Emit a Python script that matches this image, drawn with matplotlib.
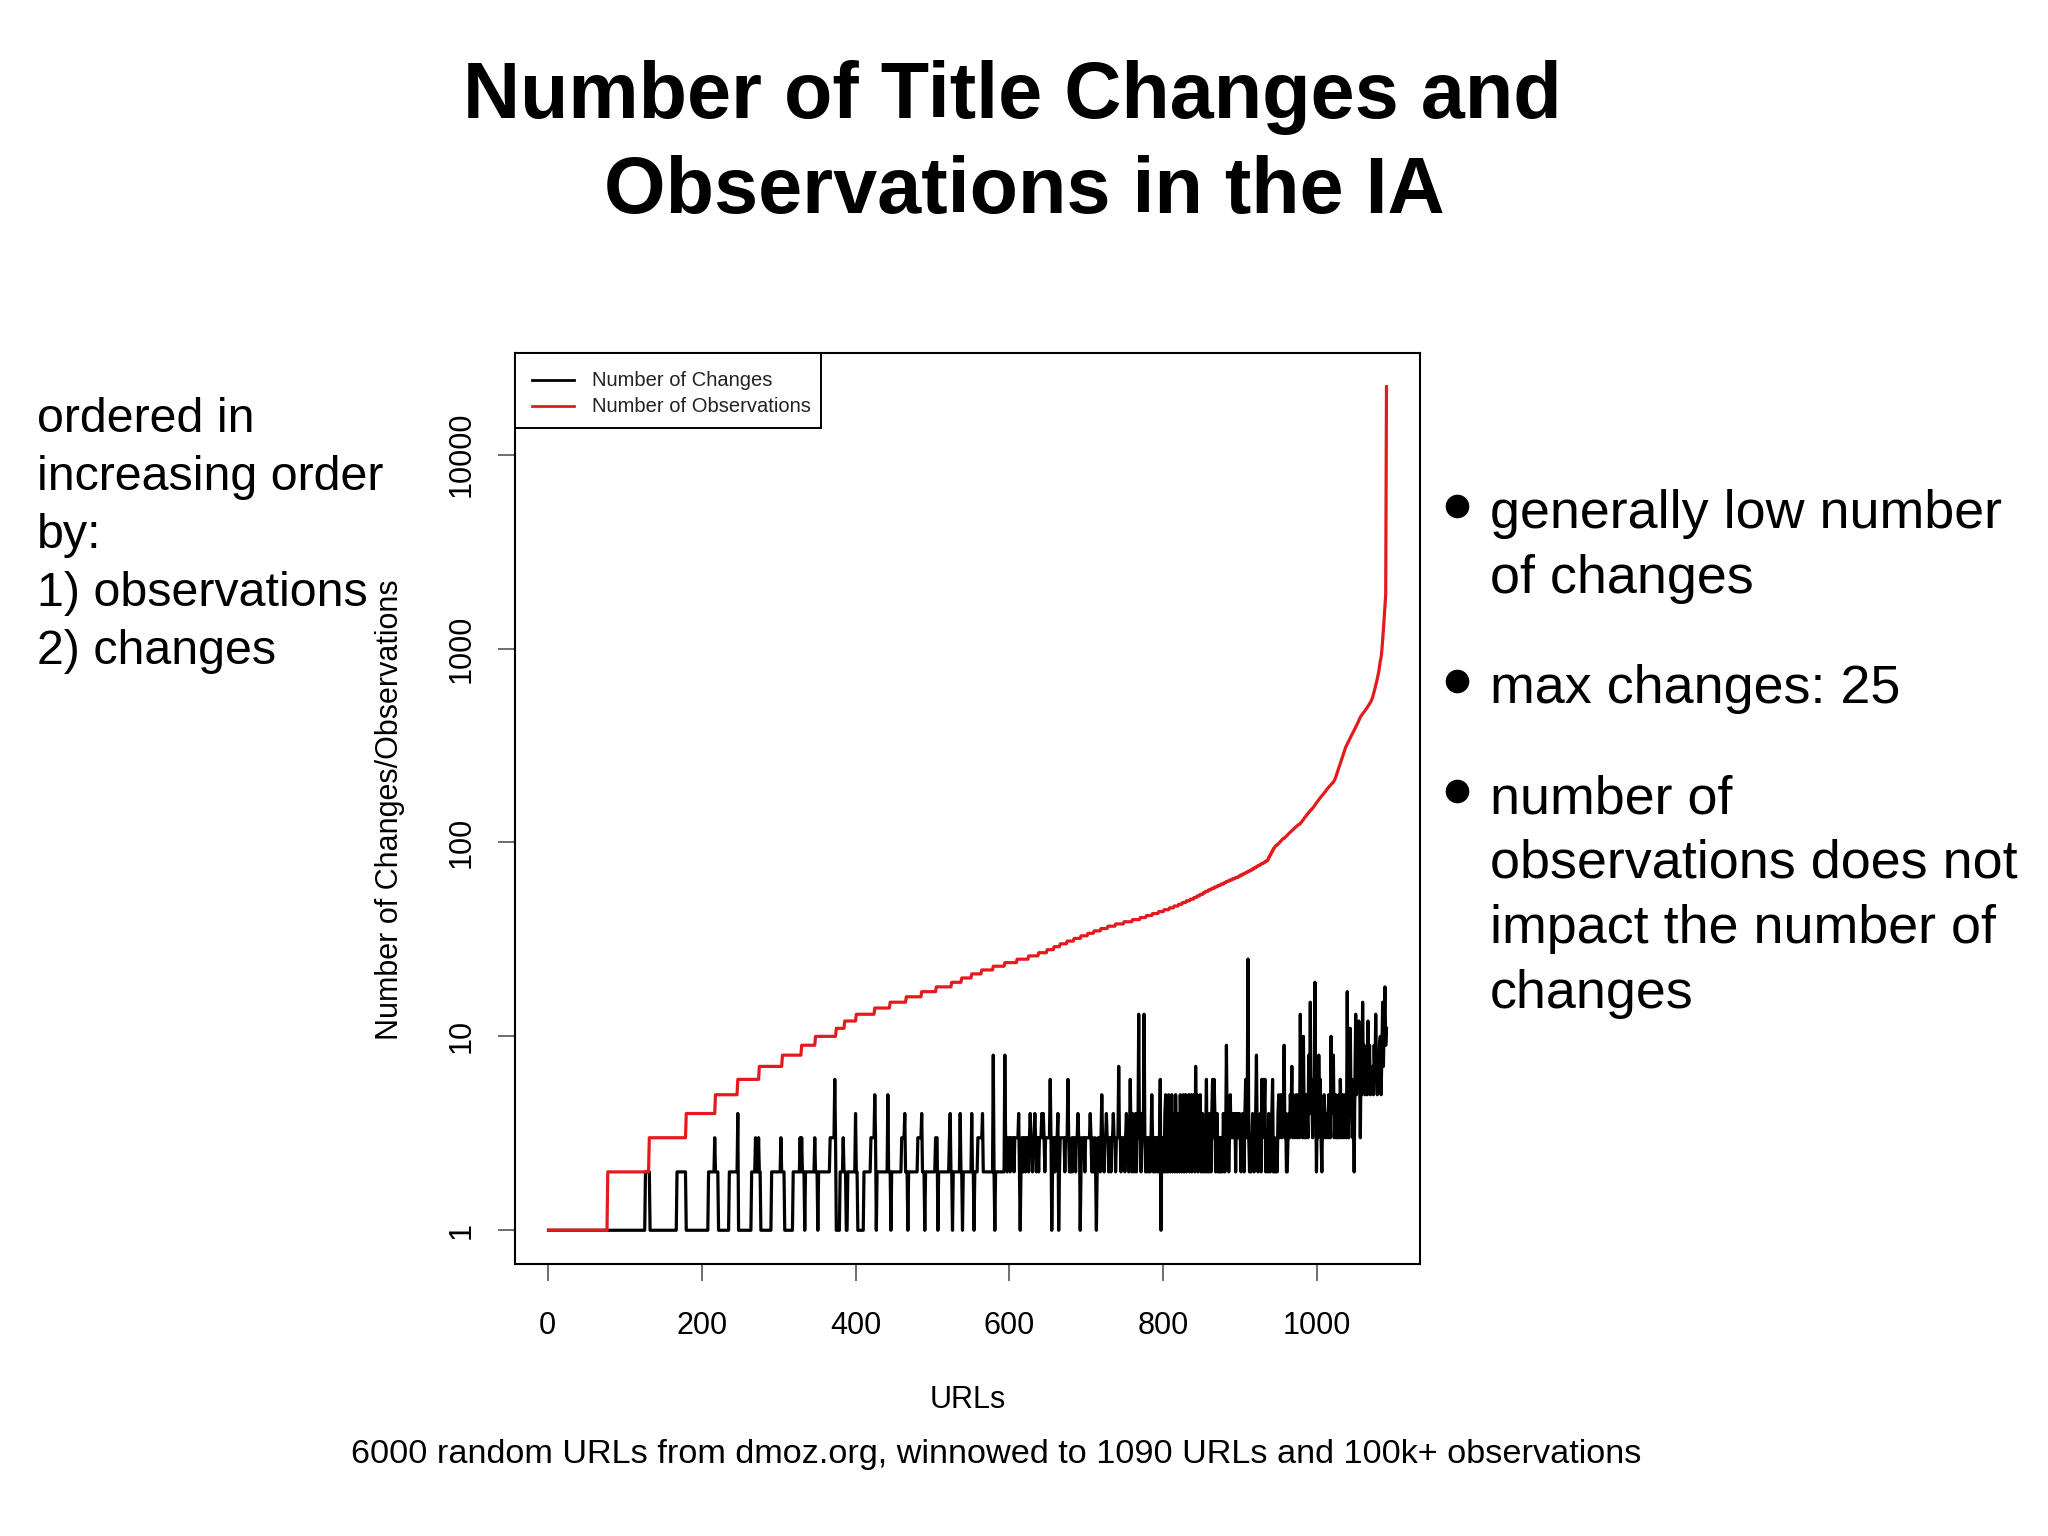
import numpy as np
import matplotlib
matplotlib.use("Agg")
import matplotlib.pyplot as plt
from matplotlib.lines import Line2D
from matplotlib.patches import Rectangle
from matplotlib.ticker import NullLocator

plt.rcParams['font.family'] = ['Liberation Sans', 'DejaVu Sans']

# number of title changes per URL (URL 1 .. 1090)
changes = (
    [1] * 126                                      # 1-126
    + [2] * 6                                      # 127-132
    + [1] * 35                                     # 133-167
    + [2] * 12                                     # 168-179
    + [1] * 29                                     # 180-208
    + [2] * 8 + [3] + [2] * 4                      # 209-221
    + [1] * 14                                     # 222-235
    + [2] * 11 + [4]                               # 236-247
    + [1] * 17                                     # 248-264
    + [2, 2, 2, 2, 2, 3, 2, 2, 2, 3, 2, 2]         # 265-276
    + [1] * 14                                     # 277-290
    + [2] * 12 + [3] + [2] * 4                     # 291-307
    + [1] * 11                                     # 308-318
    + [2] * 9 + [3, 2, 3, 2, 2, 2]                 # 319-333
    + [1]                                          # 334
    + [2] * 12 + [3, 2, 2, 2]                      # 335-350
    + [1]                                          # 351
    + [2] * 15 + [3] * 6 + [6, 3]                  # 352-374
    + [1] * 5                                      # 375-379
    + [2, 2, 2, 2, 3, 2, 2, 2]                     # 380-387
    + [1, 1]                                       # 388-389
    + [2] * 10 + [4, 2, 2]                         # 390-402
    + [1] * 8                                      # 403-410
    + [2] * 9 + [3] * 5 + [5, 3]                   # 411-426
    + [1]                                          # 427
    + [2] * 14 + [5, 2, 2, 2]                      # 428-445
    + [1]                                          # 446
    + [2] * 13 + [3] * 4 + [4, 2, 2, 2]            # 447-467
    + [1]                                          # 468
    + [2] * 12 + [3] * 5 + [4, 2, 2, 2]            # 469-489
    + [1]                                          # 490
    + [2] * 13 + [3, 3, 3]                         # 491-506
    + [1]                                          # 507
    + [2] * 14 + [3, 4, 2, 2]                      # 508-525
    + [1]                                          # 526
    + [2] * 9 + [4, 2, 2]                          # 527-538
    + [1]                                          # 539
    + [2] * 11 + [4, 2, 2]                         # 540-553
    + [1]                                          # 554
    + [2] * 4 + [3] * 6 + [4, 2, 2, 2]             # 555-568
    + [2] * 10 + [8, 2]                            # 569-580
    + [1]                                          # 581
    + [2] * 12 + [8]                               # 582-594
    + [3, 3, 2, 3, 3, 3, 2, 3, 3, 3, 3, 2, 3, 3, 3, 3, 3]
    + [4, 2, 1]
    + [2, 3, 3, 2, 3, 3, 2, 3, 3, 3, 2, 3]
    + [4, 3, 3, 2, 3, 3]
    + [4, 3, 2, 3, 3, 2, 3, 3, 3]
    + [4, 3, 4, 3, 2, 3, 3, 3, 3, 3, 3]
    + [6, 3, 1]
    + [2, 3, 3, 2, 3, 3, 3, 4, 1]
    + [2, 3, 3, 3, 3, 3, 3, 2, 3, 3, 3, 6, 3, 2]
    + [2, 2, 3, 2, 3, 3, 3, 2, 3, 3, 4, 3, 3, 1]
    + [2, 3, 3, 3, 3, 2, 3, 3, 3, 3, 3, 3, 4, 3, 2, 3, 2, 2, 3, 2, 1]
    + [2, 3, 3, 3, 2, 3, 5, 3, 3, 2, 3, 3, 4]
    + [3, 3, 2, 3, 3, 2, 3, 3, 4]
    + [3, 3, 2, 3, 3, 3, 7]
    + [3, 3, 2, 3, 3, 3, 3, 2, 3, 4, 3, 3, 2, 3, 6]
    + [3, 2, 4, 3, 2, 3, 4, 2, 3]
    + [3, 13, 3, 4, 2, 3, 4, 3, 13, 3, 2]
    + [2, 3, 3, 2, 3, 2, 3, 5, 3]
    + [2, 3, 2, 3, 3, 2, 3, 2, 3, 6, 1, 3, 2]
    + [3, 2, 4, 5, 2, 3, 2, 5, 3, 2, 3, 5, 2, 4, 3, 2, 5, 3, 2, 4, 3]
    + [2, 5, 3, 2, 4, 5, 2, 3, 5, 2, 4, 3, 5, 2, 3, 5, 2, 4, 5, 3,
       2, 7, 3, 5, 2, 4, 3, 5]
    + [2, 3, 4, 2, 3, 2, 3, 6, 2, 3, 2, 4, 3, 2, 4, 6, 3, 6, 4, 2,
       3, 4, 2, 3, 2]
    + [3, 2, 3, 2, 4, 3, 2, 3, 9, 3, 4, 2, 3, 5, 3, 4]
    + [3, 4, 3, 4, 2, 4, 3, 4, 3, 4, 3, 2, 3, 4, 3, 2, 4, 6, 3, 4,
       25, 3, 2]
    + [3, 2, 3, 4, 3, 2, 3, 4, 8, 3, 2, 3, 3, 4, 2, 6, 3, 6, 4, 6,
       2, 3, 3, 2, 4, 3, 2, 3]
    + [4, 6, 2, 3, 2, 2, 3, 2, 4, 5, 3, 4, 5, 3, 5, 4, 9, 3, 4, 2]
    + [2, 3, 4, 3, 5, 4, 7, 3, 5, 4, 3, 4, 5, 3, 4, 5, 3, 13, 4, 5,
       3, 10, 4, 3, 3, 5, 4, 3, 8, 4]
    + [15, 4, 5, 3, 6, 4, 19, 5, 2, 4, 3, 8, 4, 6, 3, 2, 4, 3, 5, 4,
       3, 4]
    + [4, 3, 5, 4, 3, 10, 4, 5, 8, 3, 4, 5, 3, 3, 4, 5, 3, 6, 4, 3,
       5, 4, 3, 5, 4, 3, 17, 4]
    + [3, 5, 11, 4, 6, 3, 5, 2, 6, 13, 5, 9, 6, 12, 7, 3, 8, 5, 15, 6,
       9, 5, 6, 8, 5, 12, 6, 9, 5, 7, 6, 7, 5, 9, 6, 13, 7, 5, 8, 6,
       9, 10, 5, 8, 15, 7, 12, 18, 9, 11]
)

# number of observations, sorted: level and how many URLs share it
obs_levels = list(range(1, 82)) + [84, 87, 90, 93]
obs_runs = [77, 54, 48, 38, 29, 28, 30, 25, 18, 27,
            11, 15, 24, 20, 21, 20, 19, 20, 13, 13,
            13, 15, 15, 16, 15, 13, 11,
            9, 8, 9, 9, 9, 9, 8, 9, 9, 10, 11, 11, 10,
            8, 8, 8, 7, 7, 6, 6, 5, 5, 5, 5, 4, 4, 4,
            3, 4, 4, 4, 4, 4, 4, 3, 4, 4, 4, 4,
            3, 3, 3, 3, 3, 3, 2, 3, 2, 3, 2, 3, 2, 2, 2,
            2, 2, 2, 2]
# the last URLs, one value each (945-1090)
obs_tail = [95, 96, 97, 97, 98, 99, 100, 101, 102, 103,
            104, 105, 105, 106, 107, 108, 109, 110, 111, 112,
            113, 114, 115, 116, 117, 118, 119, 120, 121, 122,
            123, 124, 124, 125,
            127, 128, 130, 131, 133, 135, 136, 138, 140, 141,
            143, 144, 146, 147, 149, 150,
            152, 154, 156, 158, 160, 162, 164, 166, 168, 170,
            172, 174, 176, 178, 180, 182, 184, 187, 189, 191,
            193, 195, 197, 199, 201, 203, 205, 208,
            212, 217, 223, 229, 235, 242, 249, 256, 263, 270,
            278, 286, 294, 302, 310, 316, 323,
            328, 334, 340, 347, 353, 360, 366, 372, 379, 386,
            393, 400, 408, 416, 425, 434, 443,
            449, 455, 461, 466, 472, 478, 484, 490, 497, 505,
            512, 519, 527, 535, 548, 561,
            580, 600, 622, 645, 670, 697, 728, 762, 810, 865,
            900, 980, 1100, 1250, 1450, 1650, 1900, 22400]

observations = np.repeat(obs_levels, obs_runs).tolist() + obs_tail

xticks = [0, 200, 400, 600, 800, 1000]
yticks = [1, 10, 100, 1000, 10000]
ytick_labels = ["1", "10", "100", "1000", "10000"]

left_lines = ["ordered in", "increasing order", "by:",
              "1) observations", "2) changes"]
bullets = [["generally low number", "of changes"],
           ["max changes: 25"],
           ["number of", "observations does not",
            "impact the number of", "changes"]]

RED = "#e41a1c"
W, H = 2048, 1536


def fx(px):
    return px / W


def fy(py):
    return 1 - py / H


fig = plt.figure(figsize=(20.48, 15.36), dpi=100)
ax = fig.add_axes([fx(515), fy(1264), 905 / W, 911 / H])

x_ch = np.arange(1, len(changes) + 1)
x_ob = np.arange(1, len(observations) + 1)
ax.plot(x_ch, changes, color="black", lw=2.3)
ax.plot(x_ob, observations, color=RED, lw=2.3)

# R style 4% padding
ax.set_yscale("log")
n = max(len(changes), len(observations))
ax.set_xlim(1 - 0.04 * (n - 1), n + 0.04 * (n - 1))
lmax = np.log10(max(observations))
ax.set_ylim(10 ** (-0.04 * lmax), 10 ** (1.04 * lmax))

ax.set_xticks(xticks)
ax.set_xticklabels([str(t) for t in xticks], fontsize=22)
ax.set_yticks(yticks)
ax.set_yticklabels(ytick_labels, fontsize=22, rotation=90, va="center")
ax.yaxis.set_minor_locator(NullLocator())
ax.tick_params(axis="both", direction="out", length=12.5, width=1.2,
               color="#555555")
ax.tick_params(axis="x", pad=21)
ax.tick_params(axis="y", pad=15)
for s in ax.spines.values():
    s.set_linewidth(1.5)

# legend box in the top left corner
ax.add_patch(Rectangle((0, 1 - 75 / 911), 306 / 905, 75 / 911,
                       transform=ax.transAxes, facecolor="white",
                       edgecolor="black", lw=1.4, zorder=5))
for yy, col, lab in [(1 - 27 / 911, "black", "Number of Changes"),
                     (1 - 53 / 911, RED, "Number of Observations")]:
    ax.add_line(Line2D([17 / 905, 59 / 905], [yy, yy], color=col, lw=2,
                       transform=ax.transAxes, zorder=6))
    ax.text(77 / 905, yy, lab, transform=ax.transAxes, fontsize=14.5,
            va="center", zorder=6, color="#222222")

fig.text(fx(968), fy(1400), "URLs", ha="center", va="center", fontsize=22)
fig.text(fx(390), fy(810), "Number of Changes/Observations", rotation=90,
         ha="center", va="center", fontsize=22)

# slide text
fig.text(fx(1012), fy(118), "Number of Title Changes and", ha="center",
         va="baseline", fontsize=57, fontweight="bold")
fig.text(fx(1024), fy(213), "Observations in the IA", ha="center",
         va="baseline", fontsize=57, fontweight="bold")

for i, line in enumerate(left_lines):
    fig.text(fx(37), fy(432 + 58 * i), line, ha="left", va="baseline",
             fontsize=34.8)

base = 528
for group in bullets:
    fig.add_artist(Line2D([fx(1457)], [fy(base - 22)], marker="o",
                          markersize=16, color="black",
                          transform=fig.transFigure))
    for j, line in enumerate(group):
        fig.text(fx(1490), fy(base + 65 * j), line, ha="left",
                 va="baseline", fontsize=38.8)
    base += 65 * (len(group) - 1) + 110

fig.text(fx(996), fy(1463),
         "6000 random URLs from dmoz.org, winnowed to 1090 URLs and 100k+ observations",
         ha="center", va="baseline", fontsize=24.7)

fig.savefig("out.png", dpi=100)
